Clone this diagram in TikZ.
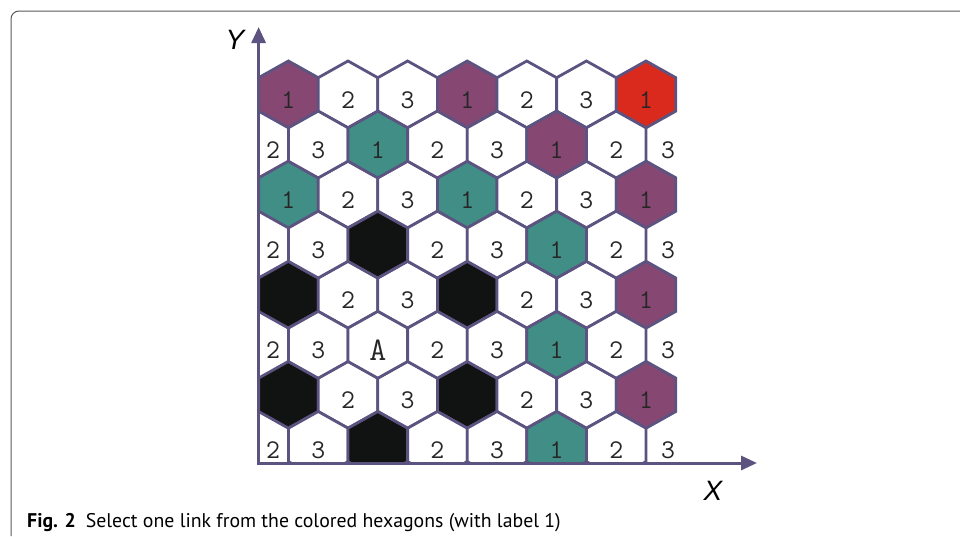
\documentclass[tikz,border=0pt]{standalone}
\usepackage{fontspec}
\setsansfont{PT Sans}
\newfontfamily\axisfont{Liberation Sans}
\usetikzlibrary{arrows.meta}

\definecolor{hexp}{HTML}{864873}
\definecolor{hext}{HTML}{418E86}
\definecolor{hexr}{HTML}{D92A1D}
\definecolor{hexb}{HTML}{111313}
\definecolor{hexw}{HTML}{FFFFFF}
\definecolor{edgec}{HTML}{5C5380}

\begin{document}
\begin{tikzpicture}[
x=1pt, y=-1pt,
hexcell/.style={draw=edgec, line width=2.8pt},
hexlabel/.style={font=\ttfamily\fontsize{27}{27}\selectfont, text=black!85, inner sep=0pt},
axis/.style={draw=edgec, line width=3pt, line cap=rect, -{Triangle[length=16pt, width=14pt]}},
axislabel/.style={font=\axisfont\itshape\fontsize{28}{28}\selectfont, inner sep=0pt},
caption/.style={font=\sffamily\fontsize{19.8}{19.8}\selectfont, inner sep=0pt, anchor=base west}
]
\useasboundingbox (0,0) rectangle (960,536);
\draw[black!65, line width=1pt, rounded corners=8pt] (11,536) -- (11,11) -- (960,11);

\begin{scope}
\clip (250,20) rectangle (700,462);
% odd rows
\foreach \r/\yc/\cells in {1/94.4/{p/1,w/2,w/3,p/1,w/2,w/3,r/1},
                           3/194.5/{t/1,w/2,w/3,t/1,w/2,w/3,p/1},
                           5/294.7/{b/{},w/2,w/3,b/{},w/2,w/3,p/1},
                           7/394.8/{b/{},w/2,w/3,b/{},w/2,w/3,p/1}}
  \foreach \f/\t [count=\k from 0] in \cells {
    \draw[hexcell, fill=hex\f, shift={(288.4+59.6*\k,\yc)}]
      (0,-33.4) -- (29.8,-16.7) -- (29.8,16.7) -- (0,33.4) -- (-29.8,16.7) -- (-29.8,-16.7) -- cycle;
    \node[hexlabel] (h\r-\k) at (288.4+59.6*\k,\yc+5.5) {\t};
  }
% even rows
\foreach \r/\yc/\cells in {2/144.5/{w/3,t/1,w/2,w/3,p/1,w/2},
                           4/244.6/{w/3,b/{},w/2,w/3,t/1,w/2},
                           6/344.8/{w/3,w/{\fontsize{33}{33}\selectfont A},w/2,w/3,t/1,w/2},
                           8/444.9/{w/3,b/{},w/2,w/3,t/1,w/2}}
  \foreach \f/\t [count=\k from 1] in \cells {
    \draw[hexcell, fill=hex\f, shift={(258.6+59.6*\k,\yc)}]
      (0,-33.4) -- (29.8,-16.7) -- (29.8,16.7) -- (0,33.4) -- (-29.8,16.7) -- (-29.8,-16.7) -- cycle;
    \node[hexlabel] (h\r-\k) at (258.6+59.6*\k,\yc+5.5) {\t};
  }
\end{scope}

\foreach \r/\yc in {2/144.5, 4/244.6, 6/344.8, 8/444.9} {
  \node[hexlabel] (h\r-0) at (273,\yc+5.5) {2};
  \node[hexlabel] (h\r-7) at (668,\yc+5.5) {3};
}

\coordinate (origin) at (258.6,463);
\coordinate (ytip) at (258.6,27);
\coordinate (xtip) at (757,463);
\draw[axis] (origin) -- (ytip);
\draw[axis] (origin) -- (xtip);
\node[axislabel] (ylab) at (235,40) {Y};
\node[axislabel] (xlab) at (713,491) {X};

\node[caption] (cap) at (27,527) {\textbf{Fig. 2}\enspace Select one link from the colored hexagons (with label 1)};
\end{tikzpicture}
\end{document}
